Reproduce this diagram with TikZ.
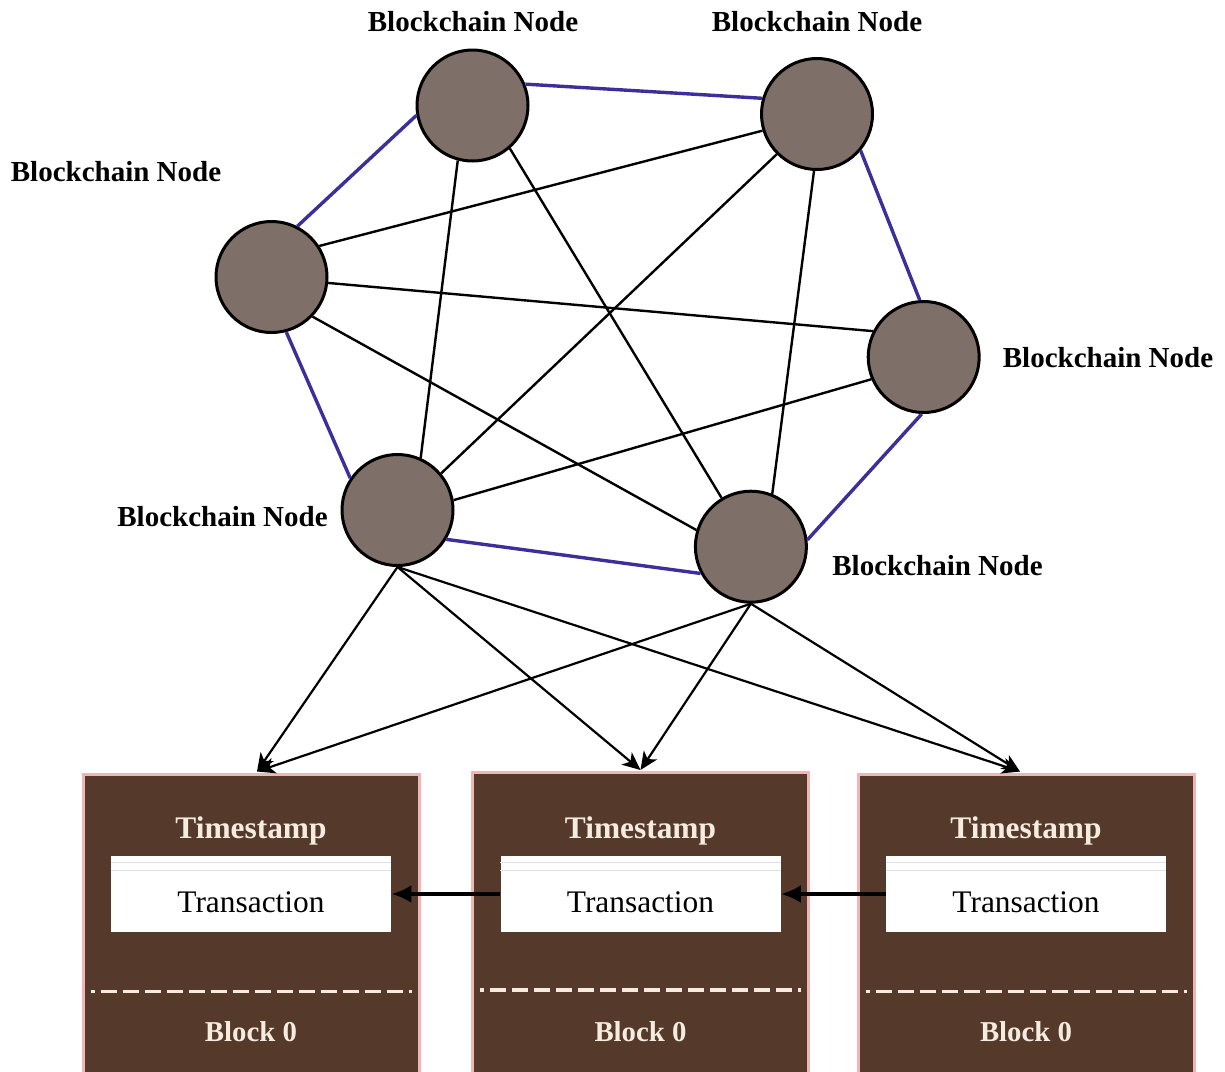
\documentclass[tikz,border=0pt]{standalone}
\usepackage{fontspec}
\setmainfont{Liberation Serif}
\usetikzlibrary{arrows.meta,calc}
\definecolor{nodefill}{HTML}{7E6F68}
\definecolor{hexblue}{HTML}{3D2F99}
\definecolor{blockfill}{HTML}{553A2B}
\definecolor{blockedge}{HTML}{F2B5B5}
\definecolor{blocktext}{HTML}{F5ECDF}
\definecolor{rule}{HTML}{DCE2EC}
\tikzset{
  bnode/.style={circle, draw=black, line width=1.5pt, fill=nodefill, minimum size=55.5pt, inner sep=0pt},
  blabel/.style={font=\fontsize{14.5pt}{17pt}\selectfont\bfseries, inner sep=0pt, anchor=base},
  ring/.style={draw=hexblue, line width=1.7pt},
  link/.style={draw=black, line width=1.2pt},
  feed/.style={draw=black, line width=1.1pt, -{Stealth[length=9pt,width=8pt,inset=2.5pt]}},
  blockbox/.style={rectangle, draw=blockedge, line width=1.5pt, fill=blockfill, minimum width=168pt, minimum height=160pt, anchor=north, inner sep=0pt},
  txbox/.style={rectangle, fill=white, minimum width=140pt, minimum height=38pt, inner sep=0pt},
  wtext/.style={font=\fontsize{15.7pt}{18pt}\selectfont\bfseries, text=blocktext, inner sep=0pt, anchor=base},
  btext/.style={font=\fontsize{14.4pt}{17pt}\selectfont\bfseries, text=blocktext, inner sep=0pt, anchor=base},
  ttext/.style={font=\fontsize{15.7pt}{18pt}\selectfont, text=black, inner sep=0pt, anchor=base},
  sepline/.style={draw=blocktext, line width=1.75pt, dash pattern=on 8pt off 3pt, dash phase=6pt},
  thinrule/.style={draw=rule, line width=0.6pt},
  chain/.style={draw=black, line width=2pt, -{Latex[length=10pt,width=9pt]}}
}
\begin{document}
\begin{tikzpicture}[x=0.5pt,y=-0.5pt]
\useasboundingbox (0,0) rectangle (1225,1071);
\clip (0,0) rectangle (1225,1071);
\fill[white] (0,0) rectangle (1225,1071);

% blockchain nodes
\node[bnode] (A) at (472.5,105.5) {};
\node[bnode] (B) at (817,114) {};
\node[bnode] (C) at (271.5,277) {};
\node[bnode] (D) at (923.7,357) {};
\node[bnode] (E) at (397.5,510) {};
\node[bnode] (F) at (750.9,546.7) {};

% labels
\node[blabel] (lA) at (473,31) {Blockchain Node};
\node[blabel] (lB) at (817,31) {Blockchain Node};
\node[blabel] (lC) at (116,181.5) {Blockchain Node};
\node[blabel] (lD) at (1108,367) {Blockchain Node};
\node[blabel] (lE) at (222.5,526.5) {Blockchain Node};
\node[blabel] (lF) at (937.5,575) {Blockchain Node};

% ring (blue) links
\draw[ring] (A.22) -- (B.164);
\draw[ring] (B.-40) -- (D.94);
\draw[ring] (D.268) -- (F.7);
\draw[ring] (F.208) -- (E.-31);
\draw[ring] (E.146) -- (C.-75);
\draw[ring] (C.63) -- (A.190);

% cross links
\draw[link] (C.33) -- (B.197);
\draw[link] (C.-6) -- (D.153);
\draw[link] (C.-44) -- (F.163);
\draw[link] (A.255) -- (E.66);
\draw[link] (A.-49) -- (F.121);
\draw[link] (B.225) -- (E.40);
\draw[link] (B.267) -- (F.68);
\draw[link] (E.10) -- (D.203);

% blocks
\node[blockbox] (b1) at (251,772.5) {};
\node[blockbox] (b2) at (640.5,771) {};
\node[blockbox] (b3) at (1026,772.5) {};

\foreach \b/\cx in {1/251,2/640.5,3/1026}{
  \node[wtext] (ts\b) at (\cx,838) {Timestamp};
  \node[txbox] (t\b) at (\cx,894) {};
  \draw[thinrule] ($(t\b.north west)+(0,7)$) -- ($(t\b.north east)+(0,7)$);
  \draw[thinrule] ($(t\b.north west)+(0,15)$) -- ($(t\b.north east)+(0,15)$);
  \node[ttext] (tx\b) at (\cx,912) {Transaction};
  \draw[sepline] ($(b\b.north west)+(9,219)$) -- ($(b\b.north east)+(-9,219)$);
  \node[btext] (bl\b) at (\cx,1041.5) {Block 0};
}

% chain arrows
\draw[chain] (t2.west) -- (t1.east);
\draw[chain] (t3.west) -- (t2.east);

% feed arrows
\coordinate (in1) at ($(b1.north)+(6,-1)$);
\coordinate (in2) at ($(b2.north)+(0,-1)$);
\coordinate (in3) at ($(b3.north)+(-6,-1)$);
\draw[feed] (E.south) -- (in1);
\draw[feed] (E.south) -- (in2);
\draw[feed] (E.south) -- (in3);
\draw[feed] (F.south) -- (in1);
\draw[feed] (F.south) -- (in2);
\draw[feed] (F.south) -- (in3);
\end{tikzpicture}
\end{document}
